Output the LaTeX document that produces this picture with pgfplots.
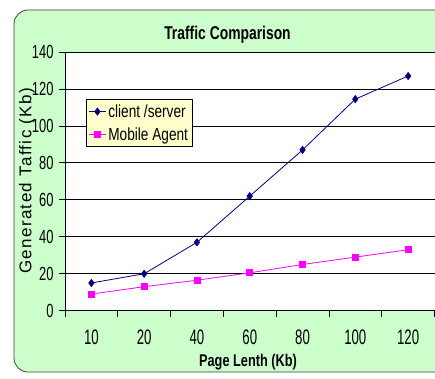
\documentclass[border=0pt]{standalone}
\usepackage{fontspec}
\setmainfont{Liberation Sans}
\newfontfamily\cond[FakeStretch=0.75]{Liberation Sans}
\newfontfamily\xcond[FakeStretch=0.63]{Liberation Sans}
\newfontfamily\ycond[FakeStretch=0.68]{Liberation Sans}
\newfontfamily\legcond[FakeStretch=0.78]{Liberation Sans}
\usepackage{pgfplots}
\pgfplotsset{compat=1.18}
\definecolor{bggreen}{RGB}{204,255,204}
\definecolor{legyellow}{RGB}{255,255,204}
\definecolor{navyline}{RGB}{0,0,128}
\definecolor{magline}{RGB}{255,0,255}
\begin{document}
\begin{tikzpicture}[x=1pt,y=1pt]
\useasboundingbox (0,0) rectangle (435,378);
\begin{scope}
\clip (0,0) rectangle (435,378);
\draw[fill=bggreen, draw=black!75, line width=0.8pt, rounded corners=14pt] (14,6) rectangle (470,368);
\end{scope}
\begin{axis}[
  at={(65pt,67.3pt)}, anchor=south west,
  scale only axis, width=369.5pt, height=258.7pt,
  axis background/.style={fill=white},
  xmin=0, xmax=7, ymin=0, ymax=140,
  axis lines*=left,
  axis line style={black, line width=0.8pt},
  xtick={0,...,7},
  xticklabels={10,20,40,60,80,100,120},
  x tick label as interval,
  ytick={0,20,...,140},
  ymajorgrids,
  grid style={black, line width=0.8pt},
  tick align=outside,
  major tick length=6pt,
  tick style={black, line width=0.8pt},
  /pgf/number format/assume math mode=true,
  xticklabel style={font=\xcond\fontsize{21}{21}\selectfont, yshift=-10pt},
  yticklabel style={font=\ycond\fontsize{19}{19}\selectfont, xshift=-2pt},
  legend style={at={(rel axis cs:0.057,0.818)}, anchor=north west,
    fill=legyellow, draw=black, line width=0.8pt,
    font=\legcond\fontsize{17.5}{17.5}\selectfont, row sep=5pt,
    inner xsep=2pt, inner ysep=3pt},
  legend cell align=left,
  legend image post style={line width=0.8pt},
]
\addplot[color=navyline, line width=0.8pt, mark=diamond*, mark size=3.5pt, mark options={fill=navyline}]
  coordinates {(0.5,15) (1.5,20) (2.5,37) (3.5,62) (4.5,87) (5.5,114.5) (6.5,127)};
\addlegendentry{client /server}
\addplot[color=magline, line width=0.8pt, mark=square*, mark size=3pt, mark options={fill=magline}]
  coordinates {(0.5,9) (1.5,13) (2.5,16.5) (3.5,20.5) (4.5,25) (5.5,29) (6.5,33)};
\addlegendentry{Mobile Agent}
\end{axis}
\node[font=\cond\bfseries\fontsize{18.5}{18.5}\selectfont] at (227.5,343) {Traffic Comparison};
\node[font=\cond\bfseries\fontsize{17}{17}\selectfont] at (248,16) {Page Lenth (Kb)};
\node[rotate=90, font=\fontsize{17}{17}\selectfont\addfontfeatures{LetterSpace=8}] at (27,197) {Generated Taffic (Kb)};
\end{tikzpicture}
\end{document}
